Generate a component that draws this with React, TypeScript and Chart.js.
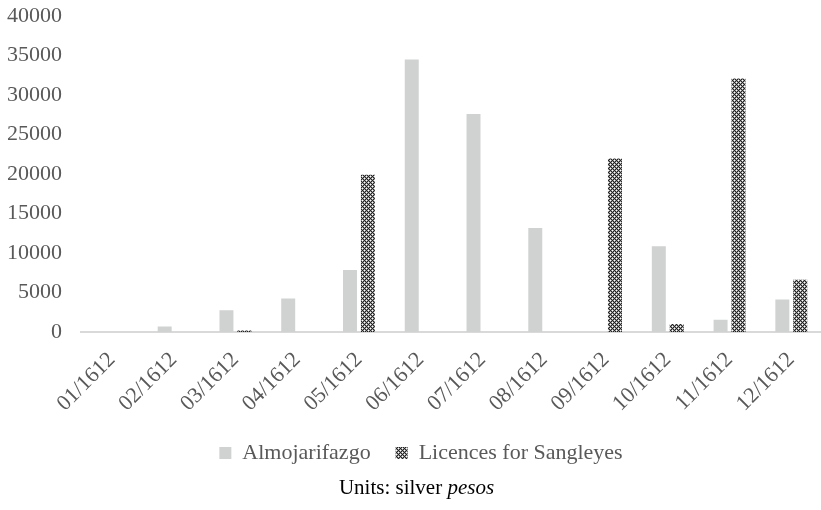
import React, { useEffect, useRef } from "react";
import { Chart, registerables } from "chart.js";

Chart.register(...registerables);

const months = ["01/1612", "02/1612", "03/1612", "04/1612", "05/1612", "06/1612", "07/1612", "08/1612", "09/1612", "10/1612", "11/1612", "12/1612"];
const almojarifazgo = [0, 700, 2750, 4250, 7850, 34500, 27600, 13150, 0, 10850, 1550, 4100];
const licences = [0, 0, 200, 0, 19900, 0, 0, 0, 21950, 1000, 32100, 6600];
const seriesNames = ["Almojarifazgo", "Licences for Sangleyes"];
const yMin = 0;
const yMax = 40000;
const yStep = 5000;
const captionPlain = "Units: silver ";
const captionItalic = "pesos";

const FONT = "'Liberation Serif', 'Times New Roman', serif";
const GREY_TEXT = "#595959";
const BAR_GREY = "#d0d1d1";

function makePattern(): CanvasPattern | string {
  const c = document.createElement("canvas");
  c.width = 4;
  c.height = 4;
  const g = c.getContext("2d");
  if (!g) return "#444";
  g.fillStyle = "#ffffff";
  g.fillRect(0, 0, 4, 4);
  for (let x = 0; x < 4; x++) {
    for (let y = 0; y < 4; y++) {
      if ((x + y) % 4 === 0 || (x - y + 4) % 4 === 0) {
        g.fillStyle = "#222222";
        g.fillRect(x, y, 1, 1);
      } else if ((x + y) % 2 === 1) {
        g.fillStyle = "#9a9a9a";
        g.fillRect(x, y, 1, 1);
      }
    }
  }
  const p = g.createPattern(c, "repeat");
  return p || "#444";
}

const captionPlugin = {
  id: "caption",
  afterDraw(chart: any) {
    const ctx = chart.ctx;
    ctx.save();
    ctx.fillStyle = "#000000";
    ctx.textBaseline = "middle";
    ctx.font = `21px ${FONT}`;
    const w1 = ctx.measureText(captionPlain).width;
    ctx.font = `italic 21px ${FONT}`;
    const w2 = ctx.measureText(captionItalic).width;
    const x0 = chart.width / 2 + 4 - (w1 + w2) / 2;
    const y = chart.height - 22;
    ctx.textAlign = "left";
    ctx.font = `21px ${FONT}`;
    ctx.fillText(captionPlain, x0, y);
    ctx.font = `italic 21px ${FONT}`;
    ctx.fillText(captionItalic, x0 + w1, y);
    ctx.restore();
  },
};

const legendShiftPlugin = {
  id: "legendShift",
  afterLayout(chart: any) {
    const lg = chart.legend;
    if (lg) {
      lg.left += 9;
      lg.right += 9;
    }
  },
};

export default function App() {
  const ref = useRef<HTMLCanvasElement | null>(null);

  useEffect(() => {
    if (!ref.current) return;
    const pattern = makePattern();
    const chart = new Chart(ref.current, {
      type: "bar",
      data: {
        labels: months,
        datasets: [
          {
            label: seriesNames[0],
            data: almojarifazgo,
            backgroundColor: BAR_GREY,
            borderWidth: 0,
            categoryPercentage: 0.58,
            barPercentage: 0.78,
          },
          {
            label: seriesNames[1],
            data: licences,
            backgroundColor: pattern as any,
            borderWidth: 0,
            categoryPercentage: 0.58,
            barPercentage: 0.78,
          },
        ],
      },
      options: {
        animation: false,
        responsive: true,
        maintainAspectRatio: false,
        layout: { padding: { top: 16, left: 0, right: 1, bottom: 36 } },
        plugins: {
          legend: {
            display: true,
            position: "bottom",
            labels: {
              boxWidth: 12,
              boxHeight: 12,
              padding: 25,
              color: GREY_TEXT,
              font: { family: FONT, size: 22 },
            },
          },
          tooltip: { enabled: false },
          title: { display: false },
        },
        scales: {
          x: {
            grid: { display: false, drawTicks: false },
            border: { display: true, color: "#d9d9d9", width: 2 },
            ticks: {
              color: GREY_TEXT,
              font: { family: FONT, size: 22 },
              minRotation: 45,
              maxRotation: 45,
              padding: 15,
              autoSkip: false,
            },
            afterFit(scale: any) {
              scale.height = 85;
            },
          },
          y: {
            min: yMin,
            max: yMax,
            grid: { display: false, drawTicks: false },
            border: { display: false },
            ticks: {
              stepSize: yStep,
              color: GREY_TEXT,
              font: { family: FONT, size: 22 },
              padding: 19,
              callback: (v: any) => String(v),
            },
            afterFit(scale: any) {
              scale.width = 81;
              scale.paddingTop = 0;
              scale.paddingBottom = 0;
            },
          },
        },
      },
      plugins: [captionPlugin, legendShiftPlugin],
    });
    return () => chart.destroy();
  }, []);

  return (
    <div style={{ position: "fixed", left: 0, top: 0, width: 821, height: 510, overflow: "hidden", background: "#fff" }}>
      <div style={{ position: "relative", width: 825, height: 510 }}>
        <canvas ref={ref} />
      </div>
    </div>
  );
}
